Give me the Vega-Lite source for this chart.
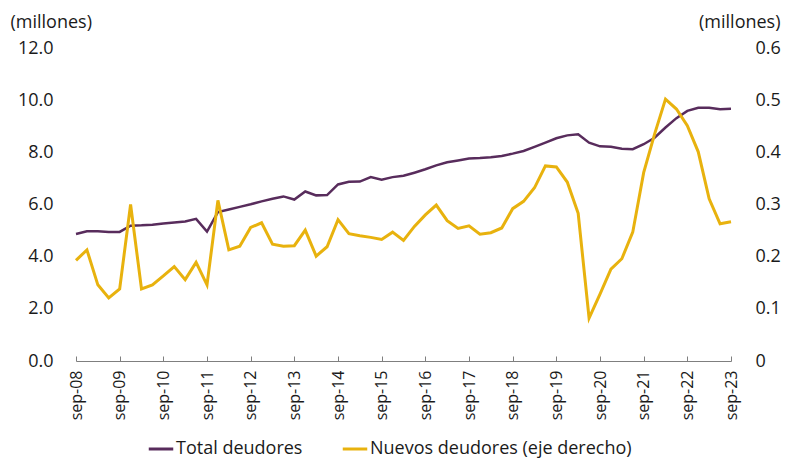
{
  "$schema": "https://vega.github.io/schema/vega-lite/v6.json",
  "autosize": {"type": "none"},
  "width": 655,
  "height": 313,
  "padding": {"left": 76, "top": 48, "right": 59, "bottom": 99},
  "background": "white",
  "config": {
    "view": {"stroke": null},
    "font": "Open Sans",
    "axis": {"labelFont": "Open Sans", "labelFontSize": 18, "labelColor": "#1a1a1a", "titleFont": "Open Sans", "titleFontSize": 18, "titleFontWeight": "normal", "titleColor": "#1a1a1a", "grid": false}
  },
  "datasets": {
    "series": [
      {"t":0,"serie":"Total deudores","valor":4.87},{"t":1,"serie":"Total deudores","valor":4.97},{"t":2,"serie":"Total deudores","valor":4.97},{"t":3,"serie":"Total deudores","valor":4.95},{"t":4,"serie":"Total deudores","valor":4.95},{"t":5,"serie":"Total deudores","valor":5.19},{"t":6,"serie":"Total deudores","valor":5.20},{"t":7,"serie":"Total deudores","valor":5.22},{"t":8,"serie":"Total deudores","valor":5.27},{"t":9,"serie":"Total deudores","valor":5.31},{"t":10,"serie":"Total deudores","valor":5.35},{"t":11,"serie":"Total deudores","valor":5.45},{"t":12,"serie":"Total deudores","valor":4.96},{"t":13,"serie":"Total deudores","valor":5.71},{"t":14,"serie":"Total deudores","valor":5.81},{"t":15,"serie":"Total deudores","valor":5.91},{"t":16,"serie":"Total deudores","valor":6.01},{"t":17,"serie":"Total deudores","valor":6.12},{"t":18,"serie":"Total deudores","valor":6.22},{"t":19,"serie":"Total deudores","valor":6.31},{"t":20,"serie":"Total deudores","valor":6.19},{"t":21,"serie":"Total deudores","valor":6.50},{"t":22,"serie":"Total deudores","valor":6.35},{"t":23,"serie":"Total deudores","valor":6.36},{"t":24,"serie":"Total deudores","valor":6.77},{"t":25,"serie":"Total deudores","valor":6.87},{"t":26,"serie":"Total deudores","valor":6.88},{"t":27,"serie":"Total deudores","valor":7.05},{"t":28,"serie":"Total deudores","valor":6.95},{"t":29,"serie":"Total deudores","valor":7.05},{"t":30,"serie":"Total deudores","valor":7.10},{"t":31,"serie":"Total deudores","valor":7.22},{"t":32,"serie":"Total deudores","valor":7.35},{"t":33,"serie":"Total deudores","valor":7.50},{"t":34,"serie":"Total deudores","valor":7.62},{"t":35,"serie":"Total deudores","valor":7.69},{"t":36,"serie":"Total deudores","valor":7.76},{"t":37,"serie":"Total deudores","valor":7.78},{"t":38,"serie":"Total deudores","valor":7.81},{"t":39,"serie":"Total deudores","valor":7.86},{"t":40,"serie":"Total deudores","valor":7.95},{"t":41,"serie":"Total deudores","valor":8.05},{"t":42,"serie":"Total deudores","valor":8.21},{"t":43,"serie":"Total deudores","valor":8.37},{"t":44,"serie":"Total deudores","valor":8.54},{"t":45,"serie":"Total deudores","valor":8.65},{"t":46,"serie":"Total deudores","valor":8.69},{"t":47,"serie":"Total deudores","valor":8.37},{"t":48,"serie":"Total deudores","valor":8.23},{"t":49,"serie":"Total deudores","valor":8.21},{"t":50,"serie":"Total deudores","valor":8.14},{"t":51,"serie":"Total deudores","valor":8.12},{"t":52,"serie":"Total deudores","valor":8.31},{"t":53,"serie":"Total deudores","valor":8.56},{"t":54,"serie":"Total deudores","valor":8.95},{"t":55,"serie":"Total deudores","valor":9.31},{"t":56,"serie":"Total deudores","valor":9.59},{"t":57,"serie":"Total deudores","valor":9.71},{"t":58,"serie":"Total deudores","valor":9.71},{"t":59,"serie":"Total deudores","valor":9.65},{"t":60,"serie":"Total deudores","valor":9.67},
      {"t":0,"serie":"Nuevos deudores (eje derecho)","valor":0.193},{"t":1,"serie":"Nuevos deudores (eje derecho)","valor":0.213},{"t":2,"serie":"Nuevos deudores (eje derecho)","valor":0.146},{"t":3,"serie":"Nuevos deudores (eje derecho)","valor":0.121},{"t":4,"serie":"Nuevos deudores (eje derecho)","valor":0.138},{"t":5,"serie":"Nuevos deudores (eje derecho)","valor":0.300},{"t":6,"serie":"Nuevos deudores (eje derecho)","valor":0.138},{"t":7,"serie":"Nuevos deudores (eje derecho)","valor":0.146},{"t":8,"serie":"Nuevos deudores (eje derecho)","valor":0.163},{"t":9,"serie":"Nuevos deudores (eje derecho)","valor":0.181},{"t":10,"serie":"Nuevos deudores (eje derecho)","valor":0.156},{"t":11,"serie":"Nuevos deudores (eje derecho)","valor":0.189},{"t":12,"serie":"Nuevos deudores (eje derecho)","valor":0.146},{"t":13,"serie":"Nuevos deudores (eje derecho)","valor":0.308},{"t":14,"serie":"Nuevos deudores (eje derecho)","valor":0.213},{"t":15,"serie":"Nuevos deudores (eje derecho)","valor":0.220},{"t":16,"serie":"Nuevos deudores (eje derecho)","valor":0.256},{"t":17,"serie":"Nuevos deudores (eje derecho)","valor":0.265},{"t":18,"serie":"Nuevos deudores (eje derecho)","valor":0.224},{"t":19,"serie":"Nuevos deudores (eje derecho)","valor":0.220},{"t":20,"serie":"Nuevos deudores (eje derecho)","valor":0.221},{"t":21,"serie":"Nuevos deudores (eje derecho)","valor":0.251},{"t":22,"serie":"Nuevos deudores (eje derecho)","valor":0.201},{"t":23,"serie":"Nuevos deudores (eje derecho)","valor":0.219},{"t":24,"serie":"Nuevos deudores (eje derecho)","valor":0.271},{"t":25,"serie":"Nuevos deudores (eje derecho)","valor":0.244},{"t":26,"serie":"Nuevos deudores (eje derecho)","valor":0.240},{"t":27,"serie":"Nuevos deudores (eje derecho)","valor":0.237},{"t":28,"serie":"Nuevos deudores (eje derecho)","valor":0.233},{"t":29,"serie":"Nuevos deudores (eje derecho)","valor":0.247},{"t":30,"serie":"Nuevos deudores (eje derecho)","valor":0.231},{"t":31,"serie":"Nuevos deudores (eje derecho)","valor":0.258},{"t":32,"serie":"Nuevos deudores (eje derecho)","valor":0.280},{"t":33,"serie":"Nuevos deudores (eje derecho)","valor":0.299},{"t":34,"serie":"Nuevos deudores (eje derecho)","valor":0.269},{"t":35,"serie":"Nuevos deudores (eje derecho)","valor":0.254},{"t":36,"serie":"Nuevos deudores (eje derecho)","valor":0.259},{"t":37,"serie":"Nuevos deudores (eje derecho)","valor":0.243},{"t":38,"serie":"Nuevos deudores (eje derecho)","valor":0.246},{"t":39,"serie":"Nuevos deudores (eje derecho)","valor":0.255},{"t":40,"serie":"Nuevos deudores (eje derecho)","valor":0.292},{"t":41,"serie":"Nuevos deudores (eje derecho)","valor":0.306},{"t":42,"serie":"Nuevos deudores (eje derecho)","valor":0.332},{"t":43,"serie":"Nuevos deudores (eje derecho)","valor":0.374},{"t":44,"serie":"Nuevos deudores (eje derecho)","valor":0.372},{"t":45,"serie":"Nuevos deudores (eje derecho)","valor":0.343},{"t":46,"serie":"Nuevos deudores (eje derecho)","valor":0.283},{"t":47,"serie":"Nuevos deudores (eje derecho)","valor":0.082},{"t":48,"serie":"Nuevos deudores (eje derecho)","valor":0.128},{"t":49,"serie":"Nuevos deudores (eje derecho)","valor":0.176},{"t":50,"serie":"Nuevos deudores (eje derecho)","valor":0.196},{"t":51,"serie":"Nuevos deudores (eje derecho)","valor":0.247},{"t":52,"serie":"Nuevos deudores (eje derecho)","valor":0.361},{"t":53,"serie":"Nuevos deudores (eje derecho)","valor":0.435},{"t":54,"serie":"Nuevos deudores (eje derecho)","valor":0.502},{"t":55,"serie":"Nuevos deudores (eje derecho)","valor":0.483},{"t":56,"serie":"Nuevos deudores (eje derecho)","valor":0.451},{"t":57,"serie":"Nuevos deudores (eje derecho)","valor":0.401},{"t":58,"serie":"Nuevos deudores (eje derecho)","valor":0.311},{"t":59,"serie":"Nuevos deudores (eje derecho)","valor":0.263},{"t":60,"serie":"Nuevos deudores (eje derecho)","valor":0.267}
    ]
  },
  "data": {"name": "series"},
  "encoding": {
    "x": {
      "field": "t", "type": "quantitative",
      "scale": {"domain": [0, 60], "nice": false, "zero": false},
      "axis": {
        "title": null,
        "values": [0,4,8,12,16,20,24,28,32,36,40,44,48,52,56,60],
        "labelExpr": "'sep-' + (datum.value/4 + 8 < 10 ? '0' : '') + (datum.value/4 + 8)",
        "labelAngle": -90, "labelAlign": "right", "labelBaseline": "middle",
        "labelFontSize": 16,
        "domainColor": "#7f7f7f", "domainWidth": 1,
        "tickColor": "#7f7f7f", "tickSize": -5, "tickWidth": 1,
        "labelPadding": 14
      }
    },
    "color": {
      "field": "serie", "type": "nominal",
      "scale": {"domain": ["Total deudores", "Nuevos deudores (eje derecho)"], "range": ["#582c5c", "#e8b20e"]},
      "legend": {
        "title": null, "orient": "none", "direction": "horizontal",
        "legendX": 71, "legendY": 387,
        "symbolType": "stroke", "symbolSize": 600, "symbolStrokeWidth": 3,
        "labelFont": "Open Sans", "labelFontSize": 18, "labelColor": "#1a1a1a", "labelLimit": 0,
        "labelOffset": 1, "columnPadding": 33
      }
    }
  },
  "layer": [
    {
      "transform": [{"filter": "datum.serie === 'Total deudores'"}],
      "mark": {"type": "line", "strokeWidth": 2.5},
      "encoding": {
        "y": {
          "field": "valor", "type": "quantitative",
          "scale": {"domain": [0, 12], "nice": false},
          "axis": {
            "orient": "left", "values": [0,2,4,6,8,10,12], "format": ".1f",
            "domain": false, "ticks": false, "labelPadding": 23,
            "title": "(millones)", "titleAngle": 0, "titleAlign": "left", "titleBaseline": "alphabetic",
            "titleX": -66, "titleY": -21
          }
        }
      }
    },
    {
      "transform": [{"filter": "datum.serie === 'Nuevos deudores (eje derecho)'"}],
      "mark": {"type": "line", "strokeWidth": 3},
      "encoding": {
        "y": {
          "field": "valor", "type": "quantitative",
          "scale": {"domain": [0, 0.6], "nice": false},
          "axis": {
            "orient": "right", "values": [0,0.1,0.2,0.3,0.4,0.5,0.6],
            "labelExpr": "datum.value == 0 ? '0' : format(datum.value, '.1f')",
            "domain": false, "ticks": false, "labelPadding": 24,
            "title": "(millones)", "titleAngle": 0, "titleAlign": "right", "titleBaseline": "alphabetic",
            "titleX": 49, "titleY": -21
          }
        }
      }
    }
  ],
  "resolve": {"scale": {"y": "independent"}}
}
